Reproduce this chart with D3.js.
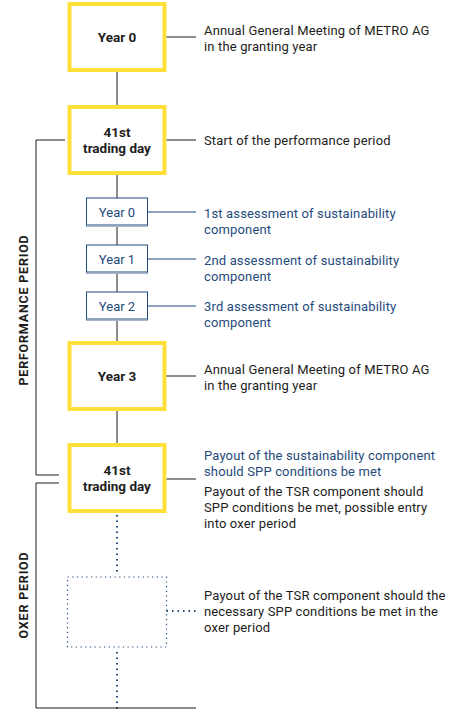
<!DOCTYPE html>
<html><head><meta charset="utf-8">
<script src="https://cdn.jsdelivr.net/npm/d3@7"></script>
<style>body{margin:0;background:#fff}svg{display:block}</style></head>
<body><svg id="c" width="460" height="709"></svg>
<script>
const nodeLabels = [["Year 0"],["41st","trading day"],["Year 0"],["Year 1"],["Year 2"],["Year 3"],["41st","trading day"],[]];
const nodeKinds = ["major","major","minor","minor","minor","major","major","dotted"];
const nodeTops = [2,105,198,245,292,341,443,577];
const descriptions = [
 [["Annual General Meeting of METRO AG","in the granting year"]],
 [["Start of the performance period"]],
 [["1st assessment of sustainability","component"]],
 [["2nd assessment of sustainability","component"]],
 [["3rd assessment of sustainability","component"]],
 [["Annual General Meeting of METRO AG","in the granting year"]],
 [["Payout of the sustainability component","should SPP conditions be met"],["Payout of the TSR component should","SPP conditions be met, possible entry","into oxer period"]],
 [["Payout of the TSR component should the","necessary SPP conditions be met in the","oxer period"]]
];
const descFirstLine = [[30],[140],[213],[260],[306],[369],[455,491],[595]];
const linkY = [37,140,212,259,306,376,479,611];
const periods = ["PERFORMANCE PERIOD","OXER PERIOD"];

const svg = d3.select("#c");
const dark="#1d1d1b", blue="#1f4a7c", yellow="#FFE03A";
const font="Roboto, 'Open Sans', sans-serif";
const cx=117;
const y = d3.scaleLinear().domain([0,709]).range([0,709]);
const size = k => k==="minor"?{w:61,h:28}:{w:99,h:70};

for(let i=0;i<nodeTops.length-1;i++){
  const a=nodeTops[i]+size(nodeKinds[i]).h, b=nodeTops[i+1];
  const dotted = i>=6;
  svg.append("line").attr("x1",cx).attr("x2",cx).attr("y1",y(a+(dotted?2:0))).attr("y2",y(b-(dotted?4:0)))
    .attr("stroke",dotted?blue:dark).attr("stroke-width",dotted?2:1).attr("stroke-dasharray",dotted?"1.5,4":null);
}
svg.append("line").attr("x1",cx).attr("x2",cx).attr("y1",y(652)).attr("y2",y(709))
  .attr("stroke",blue).attr("stroke-width",2).attr("stroke-dasharray","1.5,4");

const br = d3.path();
br.moveTo(65,y(140)); br.lineTo(36,y(140)); br.lineTo(36,y(475)); br.lineTo(59,y(475));
br.moveTo(59,y(483)); br.lineTo(36,y(483)); br.lineTo(36,y(708)); br.lineTo(196,y(708));
svg.append("path").attr("d",br.toString()).attr("fill","none").attr("stroke",dark).attr("stroke-width",1);
[[310,periods[0]],[595,periods[1]]].forEach(([cy,t])=>{
  svg.append("text").attr("transform",`translate(28,${y(cy)}) rotate(-90)`).attr("text-anchor","middle")
   .attr("font-family",font).attr("font-weight","bold").attr("font-size",12.5).attr("letter-spacing",0.8).attr("fill",dark).text(t);
});

nodeKinds.forEach((k,i)=>{
  const s=size(k), x0=cx-s.w/2, t=nodeTops[i];
  const g=svg.append("g");
  if(k==="major"){
    g.append("rect").attr("x",x0+2).attr("y",y(t)+2).attr("width",s.w-4).attr("height",s.h-4).attr("fill","#fff").attr("stroke",yellow).attr("stroke-width",4);
  } else if(k==="minor"){
    g.append("rect").attr("x",x0).attr("y",y(t)+1.5).attr("width",s.w).attr("height",s.h-1).attr("fill","#fff").attr("stroke","#a9b4c6").attr("stroke-width",1);
    g.append("rect").attr("x",x0).attr("y",y(t)).attr("width",s.w).attr("height",s.h-1).attr("fill","#fff").attr("stroke",blue).attr("stroke-width",1);
  } else {
    g.append("rect").attr("x",x0).attr("y",y(t)).attr("width",s.w).attr("height",s.h).attr("fill","none").attr("stroke",blue).attr("stroke-width",1.2).attr("stroke-dasharray","1.2,3.5");
  }
  const lines=nodeLabels[i], lh=16;
  lines.forEach((l,j)=>{
    g.append("text").attr("x",cx).attr("y",y(t+s.h/2+(j-(lines.length-1)/2)*lh)).attr("dy","0.35em")
     .attr("text-anchor","middle").attr("font-family",font).attr("font-size",k==="major"?13.5:13)
     .attr("font-weight",k==="major"?"bold":"normal").attr("fill",k==="major"?dark:blue).text(l);
  });
  const lc = k==="major"?dark:blue;
  svg.append("line").attr("x1",cx+s.w/2).attr("x2",196).attr("y1",y(linkY[i])).attr("y2",y(linkY[i]))
   .attr("stroke",lc).attr("stroke-width",k==="dotted"?2:1).attr("stroke-dasharray",k==="dotted"?"1.5,4":null);
  descriptions[i].forEach((block,b)=>{
    const col = (k==="minor"||(i===6&&b===0))?blue:dark;
    block.forEach((l,j)=>{
      svg.append("text").attr("x",204).attr("y",y(descFirstLine[i][b]+j*16)).attr("dy","0.35em")
       .attr("font-family",font).attr("font-size",13).attr("letter-spacing",0.15).attr("fill",col).text(l);
    });
  });
});
</script></body></html>
